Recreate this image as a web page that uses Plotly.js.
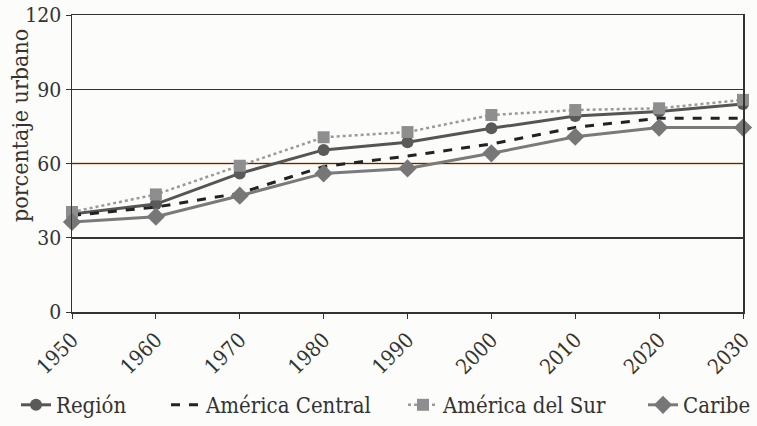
<!DOCTYPE html>
<html>
<head>
<meta charset="utf-8">
<script src="https://cdn.plot.ly/plotly-3.0.1.min.js"></script>
<style>html,body{margin:0;padding:0;background:#fcfcfa;}#chart{width:757px;height:426px;}</style>
</head>
<body>
<div id="chart"></div>
<script>
var years = [1950, 1960, 1970, 1980, 1990, 2000, 2010, 2020, 2030];
var region = [39.6, 43.6, 56.0, 65.5, 68.6, 74.2, 79.2, 81.0, 84.0];
var centralAm = [39.0, 42.4, 48.0, 58.8, 63.0, 67.9, 74.6, 78.3, 78.3];
var surAm = [40.4, 47.5, 59.1, 70.6, 72.7, 79.6, 81.6, 82.3, 85.7];
var caribe = [36.4, 38.5, 47.0, 56.0, 58.0, 64.1, 70.8, 74.5, 74.5];
var yTicks = [0, 30, 60, 90, 120];

var FONT = "'DejaVu Serif Condensed', 'DejaVu Serif', serif";
var traces = [
  {x: years, y: region, name: "Región", mode: "lines+markers", legend: "legend",
   line: {color: "#555555", width: 3}, marker: {symbol: "circle", size: 12, color: "#5a5a5a"}, cliponaxis: false},
  {x: years, y: centralAm, name: "América Central", mode: "lines", legend: "legend2",
   line: {color: "#222222", width: 3, dash: "dash"}, cliponaxis: false},
  {x: years, y: surAm, name: "América del Sur", mode: "lines+markers", legend: "legend3",
   line: {color: "#9a9a9a", width: 2.5, dash: "dot"}, marker: {symbol: "square", size: 12, color: "#8e8e8e"}, cliponaxis: false},
  {x: years, y: caribe, name: "Caribe", mode: "lines+markers", legend: "legend4",
   line: {color: "#7a7a7a", width: 3}, marker: {symbol: "diamond", size: 14, color: "#777777"}, cliponaxis: false}
];

function leg(px) {
  return {orientation: "h", xref: "container", yref: "container", x: px / 757, xanchor: "left",
          y: 1 - 405 / 426, yanchor: "middle", bgcolor: "rgba(0,0,0,0)",
          font: {family: FONT, size: 22, color: "#333"}};
}

var layout = {
  width: 757, height: 426,
  paper_bgcolor: "#fcfcfa", plot_bgcolor: "#fcfcfa",
  margin: {l: 72, r: 14, t: 15, b: 114},
  font: {family: FONT, color: "#333333", size: 18},
  showlegend: true,
  legend: leg(16), legend2: leg(166), legend3: leg(403), legend4: leg(643),
  xaxis: {range: [1950, 2030], tickvals: years, ticktext: years.map(String), tickangle: -45,
          automargin: false, ticklabelstandoff: 1,
          showgrid: false, zeroline: false, showline: true, mirror: true, linecolor: "#333", linewidth: 1.5,
          ticks: "outside", ticklen: 5, tickcolor: "#333", tickfont: {family: FONT, size: 21, color: "#333"}},
  yaxis: {range: [0, 120], tickvals: yTicks, showgrid: true, gridcolor: "#333", gridwidth: 1.5,
          automargin: false,
          zeroline: false, showline: true, mirror: true, linecolor: "#333", linewidth: 1.5,
          ticks: "outside", ticklen: 5, tickcolor: "#333", tickfont: {family: FONT, size: 21, color: "#333"}},
  annotations: [{text: "porcentaje urbano", textangle: -90, xref: "paper", yref: "paper",
                 x: (20 - 72) / 671, y: (312 - 126) / 297, xanchor: "center", yanchor: "middle",
                 showarrow: false, font: {family: FONT, size: 23, color: "#333"}}],
  shapes: [{type: "line", xref: "paper", x0: 0, x1: 1, yref: "y", y0: 60, y1: 60,
            line: {color: "#a8642a", width: 1.5}, layer: "below"}]
};
Plotly.newPlot("chart", traces, layout, {displayModeBar: false, staticPlot: true});
</script>
</body>
</html>
